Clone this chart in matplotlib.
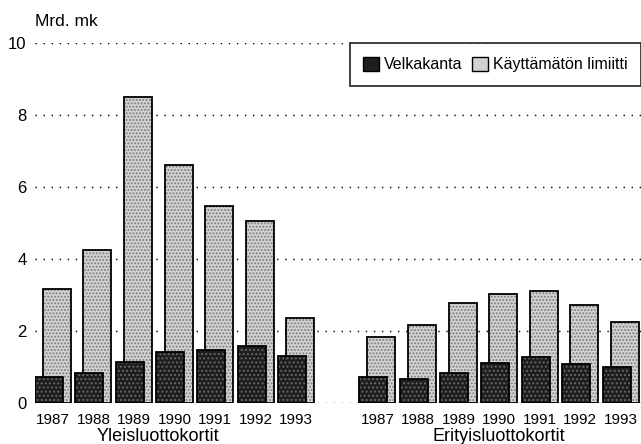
import matplotlib
matplotlib.use("Agg")
import matplotlib.pyplot as plt
import numpy as np
from matplotlib.patches import Patch

plt.rcParams['font.family'] = ['Liberation Sans', 'DejaVu Sans']
plt.rcParams['hatch.linewidth'] = 0.9

years = ['1987', '1988', '1989', '1990', '1991', '1992', '1993']
groups = ['Yleisluottokortit', 'Erityisluottokortit']
series = ['Velkakanta', 'Käyttämätön limiitti']
yleis_velka = [0.73, 0.84, 1.15, 1.43, 1.48, 1.57, 1.30]
yleis_limiitti = [3.18, 4.25, 8.50, 6.62, 5.46, 5.06, 2.37]
erit_velka = [0.72, 0.66, 0.84, 1.10, 1.27, 1.09, 1.01]
erit_limiitti = [1.83, 2.16, 2.77, 3.03, 3.10, 2.73, 2.25]
yticks = [0, 2, 4, 6, 8, 10]

dark = '#1e1e1e'
dark_hatch = '#6a6a6a'
light = '#d2d2d2'
light_hatch = '#7a7a7a'

fig = plt.figure(figsize=(6.41, 4.44), dpi=100)
ax = fig.add_axes([35/641, 1-403/444, 1-35/641, 360/444])

x1 = np.arange(len(years))
x2 = np.arange(len(years)) + len(years) + 1
w = 0.69
off = 0.1

for xs, velka, lim in [(x1, yleis_velka, yleis_limiitti), (x2, erit_velka, erit_limiitti)]:
    ax.bar(xs + off, lim, width=w, color=light, edgecolor=light_hatch, linewidth=0,
           hatch='.....', zorder=2)
    ax.bar(xs + off, lim, width=w, fill=False, edgecolor='black', linewidth=1.3, zorder=2.1)
    ax.bar(xs - off, velka, width=w, color=dark, edgecolor=dark_hatch, linewidth=0,
           hatch='....', zorder=3)
    ax.bar(xs - off, velka, width=w, fill=False, edgecolor='black', linewidth=1.3, zorder=3.1)

for y in yticks:
    ax.axhline(y, color='black', linewidth=1.0, linestyle=(0, (1, 4.8)), zorder=1)

ax.set_xlim(-0.44, 14.5)
ax.set_ylim(0, 10)
ax.set_yticks(yticks)
ax.set_yticklabels([str(v) for v in yticks], fontsize=12)
ax.set_xticks(np.concatenate([x1, x2]))
ax.set_xticklabels(years * 2, fontsize=11)
ax.tick_params(axis='both', length=0)
ax.tick_params(axis='y', pad=6)
ax.tick_params(axis='x', pad=7)
for s in ax.spines.values():
    s.set_visible(False)

ax.text(2.6, -0.93, groups[0], ha='center', va='center', fontsize=13)
ax.text(11.0, -0.93, groups[1], ha='center', va='center', fontsize=13)
fig.text(35/641, 1-22/444, 'Mrd. mk', ha='left', va='center', fontsize=12.5)

handles = [Patch(facecolor=dark, edgecolor='black', linewidth=1.0),
           Patch(facecolor=light, edgecolor='black', linewidth=1.0)]
leg = ax.legend(handles, series, loc='upper right', bbox_to_anchor=(1.0, 1.0),
                borderaxespad=0, ncol=2, fontsize=11.5, frameon=True, fancybox=False,
                handlelength=1.0, handleheight=1.0, handletextpad=0.3, columnspacing=0.6,
                borderpad=0.85)
leg.get_frame().set_edgecolor('black')
leg.get_frame().set_linewidth(1.3)
leg.set_zorder(5)

fig.savefig('out.png', dpi=100)
